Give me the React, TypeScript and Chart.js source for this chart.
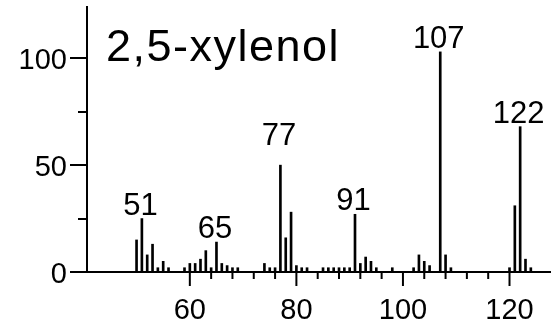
import React, { useEffect, useRef } from "react";
import { Chart, registerables } from "chart.js";
Chart.register(...registerables);

const titleText = "2,5-xylenol";
const masses = [50, 51, 52, 53, 54, 55, 56, 59, 60, 61, 62, 63, 64, 65, 66, 67, 68, 69, 74, 75, 76, 77, 78, 79, 80, 81, 82, 85, 86, 87, 88, 89, 90, 91, 92, 93, 94, 95, 98, 102, 103, 104, 105, 107, 108, 109, 120, 121, 122, 123, 124];
const intensities = [15, 25, 8, 13, 2, 5, 2, 2, 4, 4, 6, 10, 2, 14, 4, 3, 2, 2, 4, 2, 2, 50, 16, 28, 3, 2, 2, 2, 2, 2, 2, 2, 2, 27, 4, 7, 5, 2, 2, 2, 8, 5, 3, 103, 8, 2, 2, 31, 68, 6, 2];
const labeledPeaks = [51, 65, 77, 91, 107, 122];
const xMajorTicks = [60, 80, 100, 120];
const xMinorTicks = [64, 68, 72, 76, 84, 88, 92, 96, 104, 108, 112, 116];
const yMajorTicks = [0, 50, 100];
const yMinorTicks = [25, 75];

const FONT = '"Liberation Sans", Arial, Helvetica, sans-serif';
const labelGap: Record<number, number> = { 77: 20 };

const overlay = {
  id: "overlay",
  afterDraw(chart: any) {
    const ctx = chart.ctx as CanvasRenderingContext2D;
    const xs = chart.scales.x;
    const ys = chart.scales.y;
    const axX = chart.chartArea.left;
    const axY = ys.getPixelForValue(0);
    ctx.save();
    ctx.strokeStyle = "#000";
    ctx.fillStyle = "#000";
    ctx.lineWidth = 2;
    const yt = (v: number, len: number) => {
      const py = Math.round(ys.getPixelForValue(v));
      ctx.beginPath();
      ctx.moveTo(axX - len, py);
      ctx.lineTo(axX, py);
      ctx.stroke();
    };
    yMajorTicks.forEach((v) => yt(v, 17));
    yMinorTicks.forEach((v) => yt(v, 9));
    const xt = (v: number, len: number) => {
      const px = xs.getPixelForValue(v);
      ctx.beginPath();
      ctx.moveTo(px, axY);
      ctx.lineTo(px, axY + len);
      ctx.stroke();
    };
    xMajorTicks.forEach((v) => xt(v, 14));
    xMinorTicks.forEach((v) => xt(v, 7));
    ctx.font = `29px ${FONT}`;
    ctx.textAlign = "right";
    ctx.textBaseline = "alphabetic";
    yMajorTicks.forEach((v) => {
      const py = ys.getPixelForValue(v);
      ctx.fillText(String(v), axX - 20, py + 10.5);
    });
    ctx.textAlign = "center";
    xMajorTicks.forEach((v) => {
      const px = xs.getPixelForValue(v);
      ctx.fillText(String(v), px, 319);
    });
    ctx.font = `31px ${FONT}`;
    labeledPeaks.forEach((m) => {
      const i = masses.indexOf(m);
      if (i < 0) return;
      const px = xs.getPixelForValue(m) - 1.5;
      const py = ys.getPixelForValue(intensities[i]);
      ctx.fillText(String(m), px, py - (labelGap[m] ?? 4));
    });
    ctx.textAlign = "left";
    ctx.font = `45px ${FONT}`;
    (ctx as any).letterSpacing = "1.5px";
    ctx.fillText(titleText, 106, 61);
    ctx.restore();
  },
};

export default function App() {
  const ref = useRef<HTMLCanvasElement | null>(null);
  useEffect(() => {
    document.body.style.margin = "0";
    const canvas = ref.current!;
    const chart = new Chart(canvas, {
      type: "bar",
      data: {
        datasets: [
          {
            data: masses.map((m, i) => ({ x: m, y: intensities[i] })),
            backgroundColor: "#000",
            borderWidth: 0,
            barThickness: 2,
          },
        ],
      },
      options: {
        animation: false,
        responsive: false,
        maintainAspectRatio: false,
        layout: { padding: { top: 7, right: 1, left: 0, bottom: 0 } },
        plugins: { legend: { display: false }, tooltip: { enabled: false }, title: { display: false } },
        scales: {
          x: {
            type: "linear",
            offset: false,
            min: 40.7,
            max: 127.6,
            grid: { display: false, drawTicks: false, offset: false },
            ticks: { display: false },
            border: { display: true, color: "#000", width: 2 },
            afterFit: (s: any) => {
              s.height = 52;
            },
          },
          y: {
            type: "linear",
            min: 0,
            max: 124,
            grid: { display: false, drawTicks: false },
            ticks: { display: false },
            border: { display: true, color: "#000", width: 2 },
            afterFit: (s: any) => {
              s.width = 87;
            },
          },
        },
      },
      plugins: [overlay],
    });
    return () => chart.destroy();
  }, []);
  return (
    <div style={{ position: "absolute", left: 0, top: 0, width: 551, height: 324, background: "#fff" }}>
      <canvas ref={ref} width={551} height={324} style={{ width: 551, height: 324, display: "block" }} />
    </div>
  );
}
